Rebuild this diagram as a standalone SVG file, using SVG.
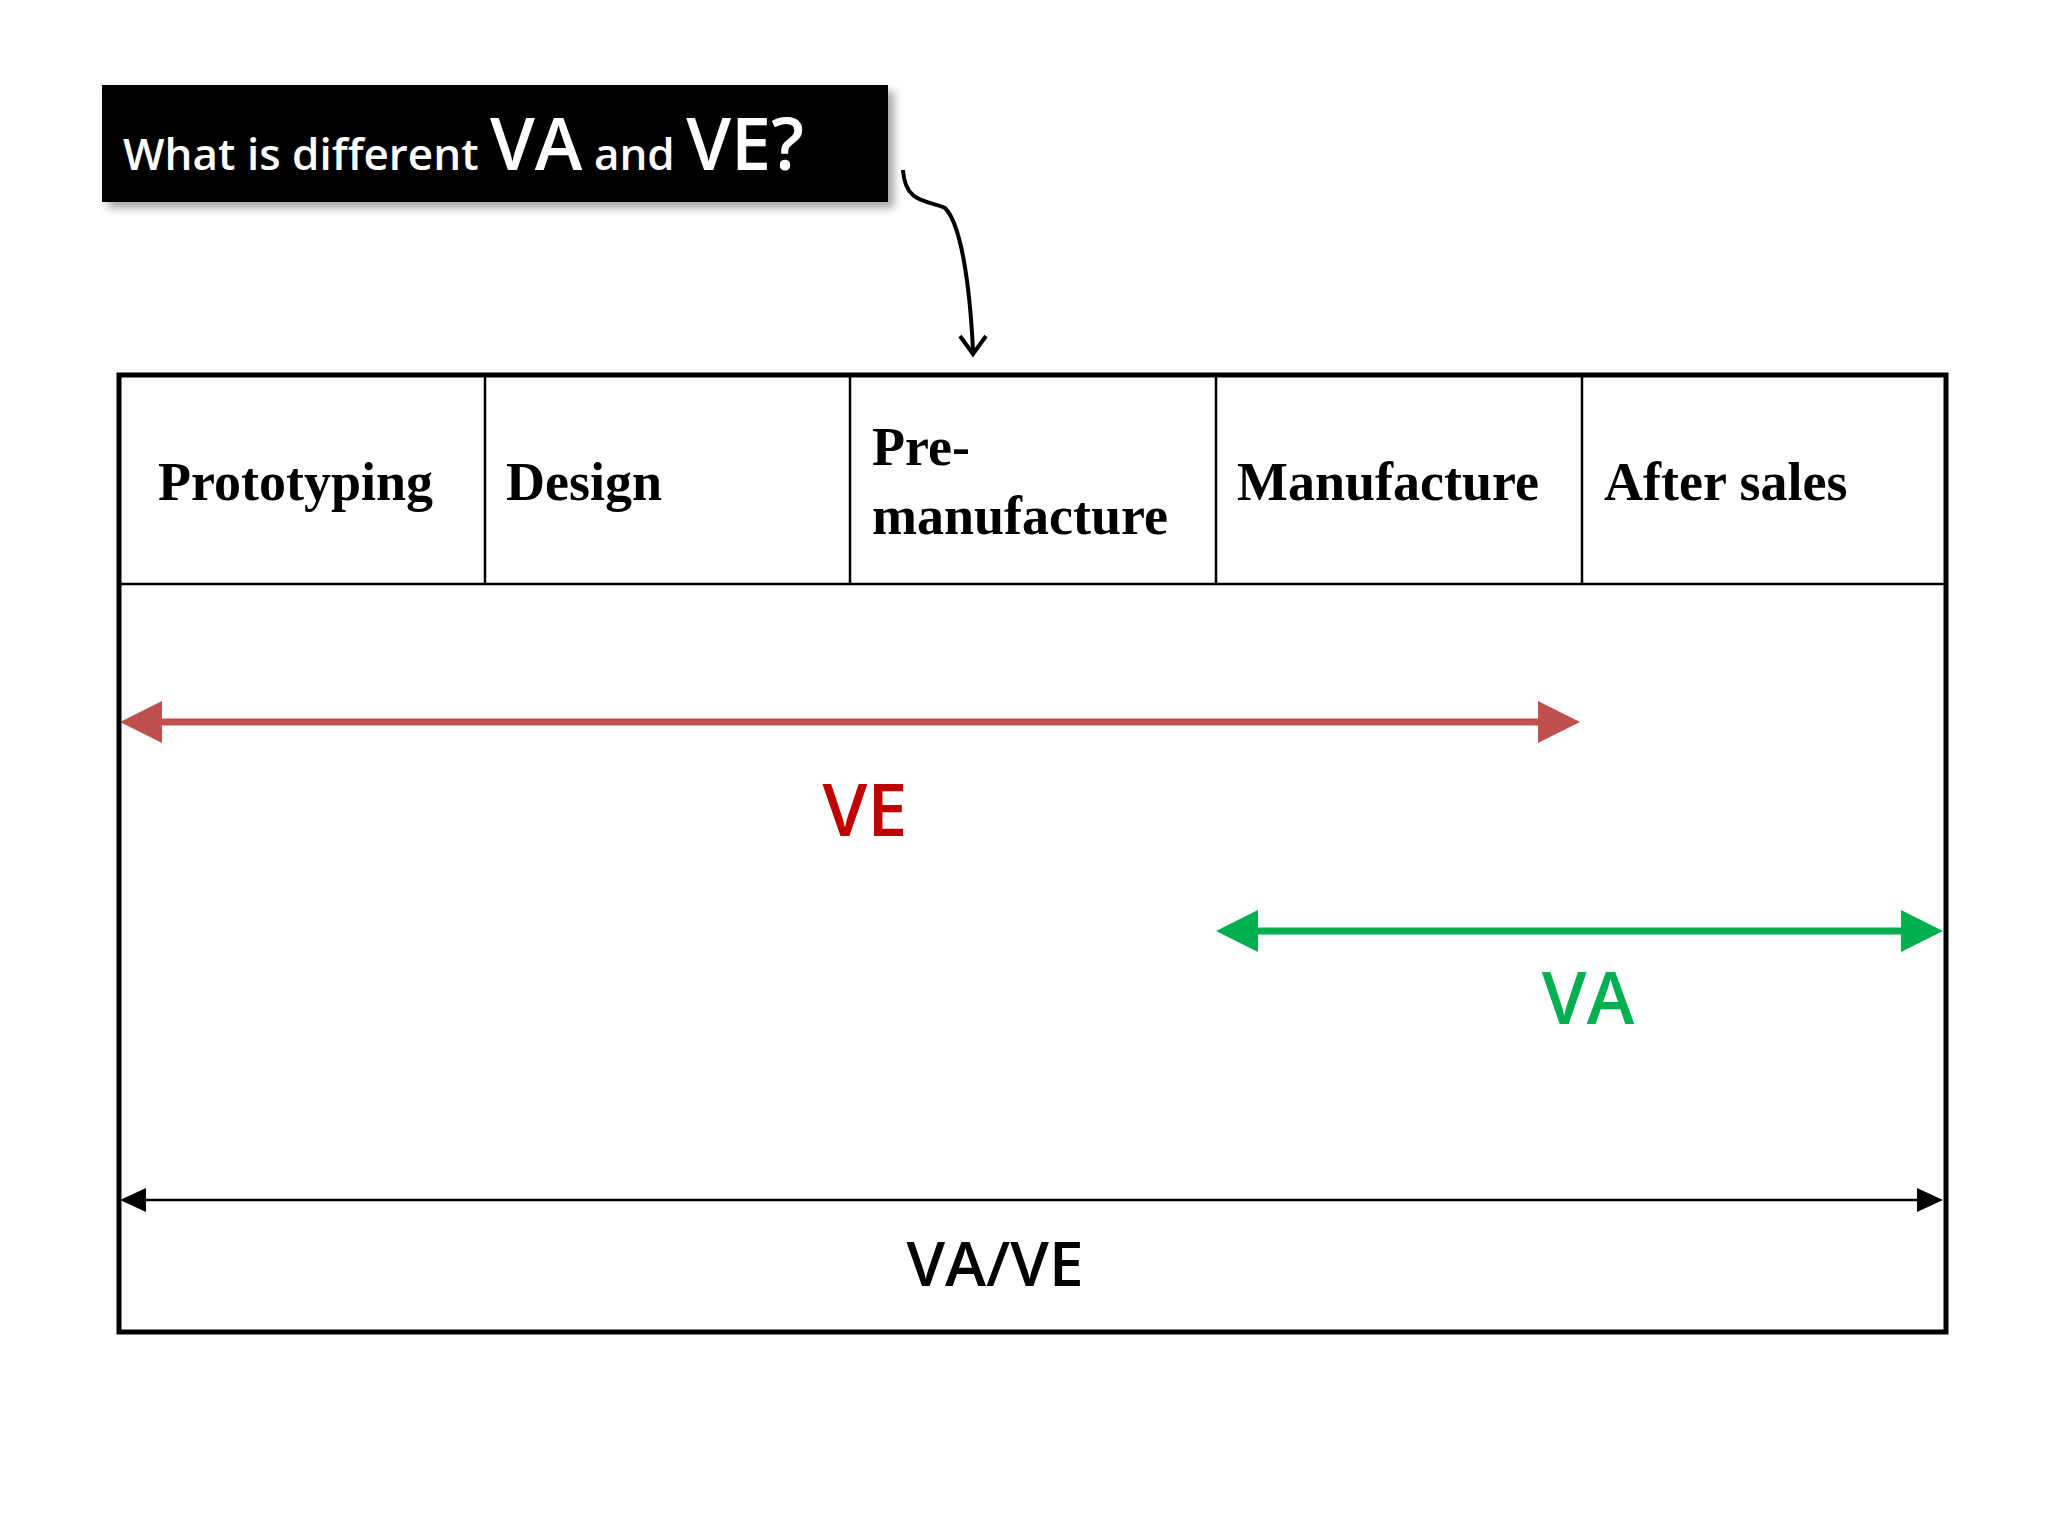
<svg xmlns="http://www.w3.org/2000/svg" width="2048" height="1536" viewBox="0 0 2048 1536">
<style>
.h{font-family:"Liberation Serif",serif;font-weight:bold;font-size:54px;fill:#000}
.s{font-family:"Open Sans","Liberation Sans",sans-serif;font-weight:600}
</style>
<defs>
<filter id="sh" x="-5%" y="-10%" width="115%" height="130%"><feDropShadow dx="6" dy="6" stdDeviation="4" flood-opacity="0.35"/></filter>
</defs>
<rect width="2048" height="1536" fill="#fff"/>
<g id="title">
<rect x="102" y="85" width="786" height="117" fill="#000" filter="url(#sh)"/>
<text x="123" y="170" class="s" fill="#fff" font-size="44">What is different <tspan font-size="72">VA</tspan> and <tspan font-size="72">VE?</tspan></text>
</g>
<g id="connectors" fill="none">
<path d="M903,170 C905,205 930,200 945,208 C962,225 970,290 973,350" stroke="#000" stroke-width="4"/>
<path d="M960,336 L973,354 L986,336" stroke="#000" stroke-width="4"/>
<g id="ve-arrow">
<line x1="158" y1="722" x2="1540" y2="722" stroke="#C0504D" stroke-width="7"/>
<polygon points="120,722 162,701 162,743" fill="#C0504D"/>
<polygon points="1580,722 1538,701 1538,743" fill="#C0504D"/>
</g>
<g id="va-arrow">
<line x1="1254" y1="931" x2="1905" y2="931" stroke="#00B050" stroke-width="7"/>
<polygon points="1216,931 1258,910 1258,952" fill="#00B050"/>
<polygon points="1943,931 1901,910 1901,952" fill="#00B050"/>
</g>
<g id="vave-arrow">
<line x1="140" y1="1200" x2="1923" y2="1200" stroke="#000" stroke-width="2.5"/>
<polygon points="120,1200 146,1188 146,1212" fill="#000"/>
<polygon points="1943,1200 1917,1188 1917,1212" fill="#000"/>
</g>
</g>
<g id="table" fill="none" stroke="#000">
<rect x="119" y="375" width="1827" height="957" stroke-width="5"/>
<line x1="119" y1="584" x2="1946" y2="584" stroke-width="2.5"/>
<line x1="485" y1="375" x2="485" y2="584" stroke-width="2.5"/>
<line x1="850" y1="375" x2="850" y2="584" stroke-width="2.5"/>
<line x1="1216" y1="375" x2="1216" y2="584" stroke-width="2.5"/>
<line x1="1582" y1="375" x2="1582" y2="584" stroke-width="2.5"/>
</g>
<g id="prototyping"><text x="158" y="500" class="h">Prototyping</text></g>
<g id="design"><text x="506" y="500" class="h">Design</text></g>
<g id="premanufacture"><text x="872" y="465" class="h">Pre-</text><text x="872" y="534" class="h">manufacture</text></g>
<g id="manufacture"><text x="1237" y="500" class="h">Manufacture</text></g>
<g id="aftersales"><text x="1604" y="500" class="h">After sales</text></g>
<g id="ve"><text x="865" y="836" class="s" font-size="72" fill="#C00000" text-anchor="middle">VE</text></g>
<g id="va"><text x="1588" y="1024" class="s" font-size="72" fill="#00B050" text-anchor="middle">VA</text></g>
<g id="vave"><text x="995" y="1286" class="s" font-size="62" fill="#000" text-anchor="middle">VA/VE</text></g>
</svg>
